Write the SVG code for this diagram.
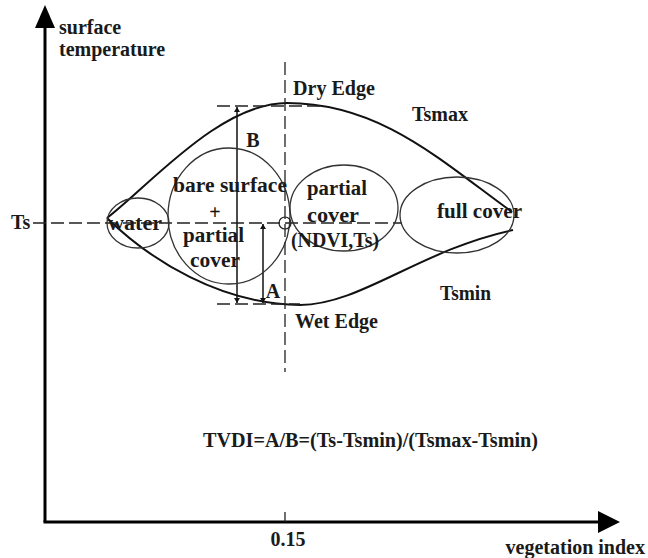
<svg xmlns="http://www.w3.org/2000/svg" width="648" height="558" viewBox="0 0 648 558">
<style>
text{font-family:"Liberation Serif","Times New Roman",serif;font-weight:bold;fill:#1a1a1a;font-size:20px}
.ax{stroke:#000;stroke-width:3;fill:none}
.env{stroke:#111;stroke-width:2;fill:none}
.ell{stroke:#333;stroke-width:1.3;fill:none}
.dash{stroke:#222;stroke-width:1.3;fill:none;stroke-dasharray:13 5}
.arr{stroke:#111;stroke-width:1.5;fill:none}
</style>
<defs>
<marker id="ah" viewBox="0 0 10 10" refX="10" refY="5" markerWidth="5" markerHeight="6" markerUnits="userSpaceOnUse" orient="auto-start-reverse" preserveAspectRatio="none">
<path d="M0,0 L10,5 L0,10 Z" fill="#111"/>
</marker>
</defs>
<g id="axes">
<line class="ax" x1="45" y1="522" x2="45" y2="26"/>
<polygon points="45,5 35,28 55,28" fill="#000"/>
<line class="ax" x1="43.5" y1="522" x2="600" y2="522"/>
<polygon points="620,522 598,511 598,533" fill="#000"/>
<line x1="285" y1="512" x2="285" y2="522" stroke="#222" stroke-width="1.3"/>
<text x="59" y="34">surface</text>
<text x="59" y="56">temperature</text>
<text x="288" y="546" text-anchor="middle">0.15</text>
<text x="645" y="554" text-anchor="end" font-size="17">vegetation index</text>
<text x="11" y="229">Ts</text>
</g>
<g id="connectors">
<path class="env" d="M107,218 C150,185 220,103 287,103 C380,103 440,160 512,212"/>
<path class="env" d="M107,218 C150,260 220,304 300,305 C360,305 420,250 513,230"/>
<line class="dash" x1="285" y1="62" x2="285" y2="372"/>
<line class="dash" x1="33" y1="223" x2="402" y2="223"/>
<line class="dash" x1="217" y1="106" x2="322" y2="106"/>
<line class="dash" x1="217" y1="304" x2="300" y2="304"/>
<line class="arr" x1="237" y1="107" x2="237" y2="303" marker-start="url(#ah)" marker-end="url(#ah)"/>
<line class="arr" x1="263" y1="224" x2="263" y2="303" marker-start="url(#ah)" marker-end="url(#ah)"/>
</g>
<g id="water">
<ellipse class="ell" cx="138" cy="223" rx="31" ry="25"/>
<text x="108" y="230" textLength="54" lengthAdjust="spacingAndGlyphs" font-size="21">water</text>
</g>
<g id="bare">
<ellipse class="ell" cx="229" cy="216" rx="61" ry="68"/>
<text x="173" y="192" textLength="114" lengthAdjust="spacingAndGlyphs" font-size="21">bare surface</text>
<text x="215" y="219" text-anchor="middle" font-size="21" style="fill:#111">+</text>
<text x="183" y="242" textLength="61" lengthAdjust="spacingAndGlyphs" font-size="21">partial</text>
<text x="190" y="267" textLength="50" lengthAdjust="spacingAndGlyphs" font-size="21">cover</text>
</g>
<g id="partial">
<ellipse class="ell" cx="344" cy="208" rx="54" ry="43"/>
<text x="307" y="195" textLength="60" lengthAdjust="spacingAndGlyphs" font-size="21">partial</text>
<text x="307" y="222" textLength="52" lengthAdjust="spacingAndGlyphs" font-size="21">cover</text>
</g>
<g id="full">
<ellipse class="ell" cx="457" cy="215" rx="57" ry="38"/>
<text x="437" y="218" textLength="85" lengthAdjust="spacingAndGlyphs" font-size="21">full cover</text>
</g>
<g id="point">
<circle cx="285" cy="223" r="6" fill="none" stroke="#222" stroke-width="1.2"/>
<text x="291" y="247" textLength="88" lengthAdjust="spacingAndGlyphs" font-size="19.5">(NDVI,Ts)</text>
</g>
<g id="labels">
<text x="293" y="95" textLength="82" lengthAdjust="spacingAndGlyphs">Dry Edge</text>
<text x="412" y="121" textLength="56" lengthAdjust="spacingAndGlyphs" font-size="19.5">Tsmax</text>
<text x="440" y="300" textLength="51" lengthAdjust="spacingAndGlyphs" font-size="19">Tsmin</text>
<text x="295" y="328" textLength="83" lengthAdjust="spacingAndGlyphs">Wet Edge</text>
<text x="253" y="147" text-anchor="middle" font-size="19">B</text>
<text x="273" y="298" text-anchor="middle" font-size="19">A</text>
<text x="203" y="447" textLength="335" lengthAdjust="spacingAndGlyphs" font-size="18">TVDI=A/B=(Ts-Tsmin)/(Tsmax-Tsmin)</text>
</g>
</svg>
